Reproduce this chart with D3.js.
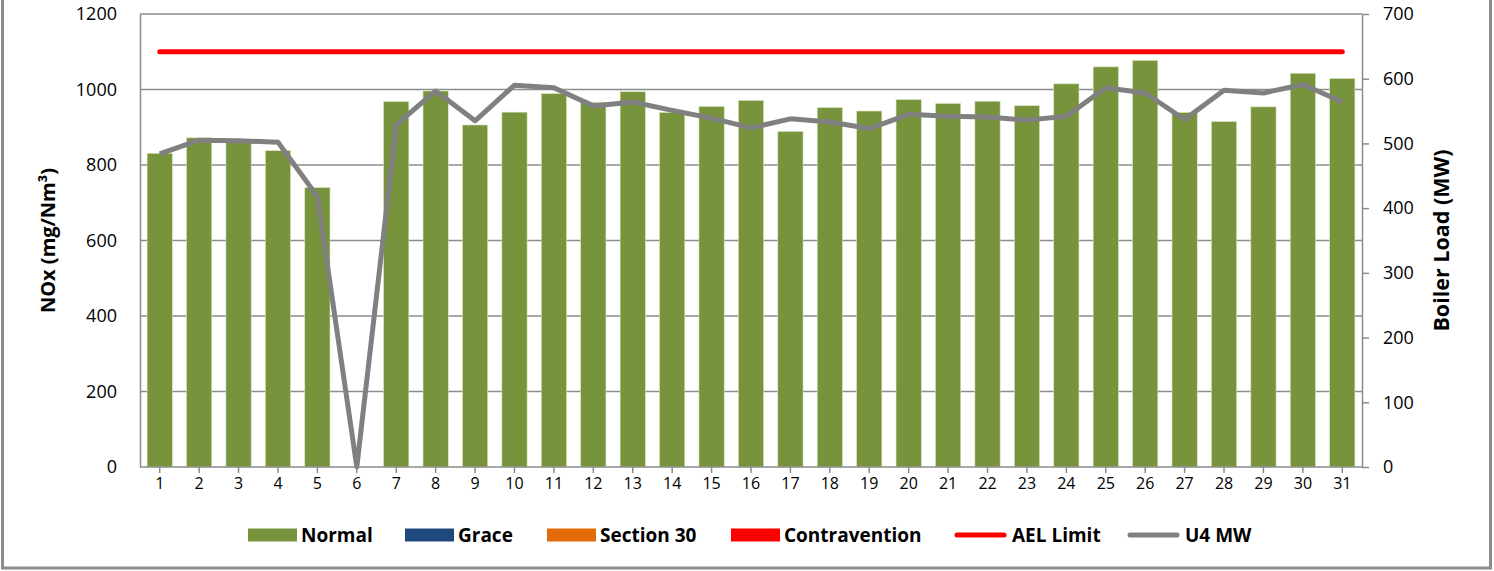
<!DOCTYPE html>
<html>
<head>
<meta charset="utf-8">
<script src="https://cdn.jsdelivr.net/npm/d3@7"></script>
<style>
  html, body { margin: 0; padding: 0; background: #fff; }
  svg { display: block; }
  text { font-family: "Open Sans", "DejaVu Sans", sans-serif; fill: #000; }
</style>
</head>
<body>
<svg id="chart" width="1494" height="571"></svg>
<script>
(function() {

  // days of the month
  var days = d3.range(1, 32).map(String);

  // NOx (mg/Nm3), daily averages - all "Normal"
  var normal = [831, 872, 868, 838, 740, 0, 968, 996, 906, 940,
                989, 966, 994, 939, 955, 971, 889, 952, 943, 973,
                963, 969, 957, 1015, 1060, 1077, 939, 915, 954, 1043, 1029];

  // boiler load (MW)
  var u4mw = [484, 505, 504, 502, 418, 0, 529, 581, 535, 590,
              586, 558, 564, 551, 539, 524, 538, 533, 523, 545,
              542, 541, 536, 542, 586, 578, 537, 582, 578, 591, 564];

  var aelLimit = 1100;

  var leftTicks = [0, 200, 400, 600, 800, 1000, 1200];
  var rightTicks = [0, 100, 200, 300, 400, 500, 600, 700];

  var legendItems = [
    {name: "Normal", color: "#77933c", kind: "box"},
    {name: "Grace", color: "#1f497d", kind: "box"},
    {name: "Section 30", color: "#e36c09", kind: "box"},
    {name: "Contravention", color: "#ff0000", kind: "box"},
    {name: "AEL Limit", color: "#ff0000", kind: "line"},
    {name: "U4 MW", color: "#808080", kind: "line"}
  ];

  var svg = d3.select("#chart");
  var plot = {left: 140, right: 1362, top: 14, bottom: 467};

  // outer chart border (top edge sits outside the picture)
  svg.append("rect")
    .attr("x", 2.5).attr("y", -10)
    .attr("width", 1488).attr("height", 578)
    .attr("fill", "#fff")
    .attr("stroke", "#8c8c8c")
    .attr("stroke-width", 3);

  var x = d3.scaleBand()
    .domain(days)
    .range([plot.left, plot.right])
    .paddingInner(0.36)
    .paddingOuter(0.18);

  var yL = d3.scaleLinear().domain([0, 1200]).range([plot.bottom, plot.top]);
  var yR = d3.scaleLinear().domain([0, 700]).range([plot.bottom, plot.top]);

  function cx(d) { return x(d) + x.bandwidth() / 2; }

  // gridlines
  svg.append("g")
    .selectAll("line")
    .data(leftTicks.slice(1))
    .enter().append("line")
    .attr("x1", plot.left).attr("x2", plot.right)
    .attr("y1", function(d) { return yL(d); })
    .attr("y2", function(d) { return yL(d); })
    .attr("stroke", "#8c8c8c")
    .attr("stroke-width", 1.5);

  // bars
  svg.append("g")
    .selectAll("rect")
    .data(normal)
    .enter().append("rect")
    .attr("x", function(d, i) { return x(days[i]); })
    .attr("y", function(d) { return yL(d); })
    .attr("width", x.bandwidth())
    .attr("height", function(d) { return yL(0) - yL(d); })
    .attr("fill", "#77933c")
    .attr("stroke", "#d7e4bd")
    .attr("stroke-width", 0.6);

  // AEL limit line
  svg.append("line")
    .attr("x1", cx(days[0])).attr("x2", cx(days[days.length - 1]))
    .attr("y1", yL(aelLimit)).attr("y2", yL(aelLimit))
    .attr("stroke", "#ff0000")
    .attr("stroke-width", 5)
    .attr("stroke-linecap", "round");

  // boiler load line
  var line = d3.line()
    .x(function(d, i) { return cx(days[i]); })
    .y(function(d) { return yR(d); });

  svg.append("path")
    .datum(u4mw)
    .attr("d", line)
    .attr("fill", "none")
    .attr("stroke", "#808080")
    .attr("stroke-width", 5)
    .attr("stroke-linejoin", "round");

  // axes
  function styleAxis(g, size) {
    g.selectAll("path, line").attr("stroke", "#8c8c8c").attr("stroke-width", 1.5);
    g.selectAll("text")
      .attr("fill", "#000")
      .style("font-size", size + "px")
      .style("font-family", "'Open Sans', sans-serif");
  }

  var gx = svg.append("g")
    .attr("transform", "translate(0," + plot.bottom + ")")
    .call(d3.axisBottom(x).tickSizeInner(6).tickSizeOuter(0).tickPadding(5));
  styleAxis(gx, 16);
  gx.select(".domain").attr("d", "M" + plot.left + ",0H" + plot.right);

  var gl = svg.append("g")
    .attr("transform", "translate(" + plot.left + ",0)")
    .call(d3.axisLeft(yL).tickValues(leftTicks).tickFormat(d3.format("d"))
      .tickSizeInner(0).tickSizeOuter(0).tickPadding(23));
  styleAxis(gl, 18);

  var gr = svg.append("g")
    .attr("transform", "translate(" + plot.right + ",0)")
    .call(d3.axisRight(yR).tickValues(rightTicks).tickFormat(d3.format("d"))
      .tickSizeInner(7).tickSizeOuter(0).tickPadding(14));
  styleAxis(gr, 18);

  // axis titles
  svg.append("text")
    .attr("transform", "translate(50," + ((plot.top + plot.bottom) / 2) + ") rotate(-90)")
    .attr("text-anchor", "middle")
    .attr("dominant-baseline", "middle")
    .style("font-size", "20px")
    .style("font-weight", "bold")
    .text("NOx (mg/Nm³)");

  svg.append("text")
    .attr("transform", "translate(1443," + ((plot.top + plot.bottom) / 2) + ") rotate(-90)")
    .attr("text-anchor", "middle")
    .attr("dominant-baseline", "middle")
    .style("font-size", "21.5px")
    .style("font-weight", "bold")
    .text("Boiler Load (MW)");

  // legend
  var legendX = [248, 405, 547, 731, 955, 1128];
  var lg = svg.append("g").attr("transform", "translate(0,535)");
  var item = lg.selectAll("g")
    .data(legendItems)
    .enter().append("g")
    .attr("transform", function(d, i) { return "translate(" + legendX[i] + ",0)"; });

  item.filter(function(d) { return d.kind == "box"; })
    .append("rect")
    .attr("x", 0).attr("y", -6.5)
    .attr("width", 49).attr("height", 13)
    .attr("fill", function(d) { return d.color; });

  item.filter(function(d) { return d.kind == "line"; })
    .append("line")
    .attr("x1", 2).attr("x2", 49)
    .attr("y1", 0).attr("y2", 0)
    .attr("stroke", function(d) { return d.color; })
    .attr("stroke-width", 5)
    .attr("stroke-linecap", "round");

  item.append("text")
    .attr("x", function(d) { return d.kind == "box" ? 53 : 57; })
    .attr("y", 0)
    .attr("dominant-baseline", "central")
    .style("font-size", "19px")
    .style("font-weight", "bold")
    .text(function(d) { return d.name; });
})();
</script>
</body>
</html>
